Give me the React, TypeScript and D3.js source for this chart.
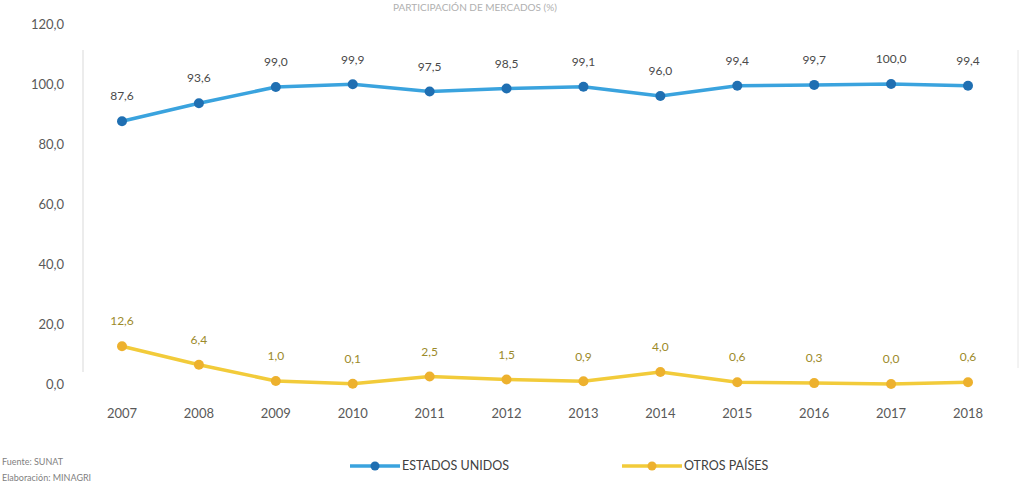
import React from "react";
import * as d3 from "d3";

const years = ["2007","2008","2009","2010","2011","2012","2013","2014","2015","2016","2017","2018"];
const estadosUnidos = [87.6, 93.6, 99.0, 99.9, 97.5, 98.5, 99.1, 96.0, 99.4, 99.7, 100.0, 99.4];
const otrosPaises = [12.6, 6.4, 1.0, 0.1, 2.5, 1.5, 0.9, 4.0, 0.6, 0.3, 0.0, 0.6];
const yTicks = [0, 20, 40, 60, 80, 100, 120];
const seriesNames = ["ESTADOS UNIDOS", "OTROS PAÍSES"];

const W = 1030, H = 500;
const fmt = (v: number) => v.toFixed(1).replace(".", ",");
const FONT = "Lato, 'Open Sans', sans-serif";

export default function App() {
  const x = d3.scalePoint<string>().domain(years).range([122, 968]);
  const y = d3.scaleLinear().domain([0, 120]).range([384, 24]);
  const line = d3.line<number>().x((_, i) => x(years[i])!).y((d) => y(d));

  const series = [
    { name: seriesNames[0], data: estadosUnidos, line: "#3AA3DE", marker: "#1F6FB2", label: "#4a4a4a" },
    { name: seriesNames[1], data: otrosPaises, line: "#F2CB3A", marker: "#EDB12E", label: "#9c8a2a" },
  ];

  return (
    <svg width={W} height={H} style={{ position: "absolute", left: 0, top: 0, background: "#fff" }} fontFamily={FONT}>
      <text x={475} y={11} textAnchor="middle" fontSize={10} fill="#b0b0b0">PARTICIPACIÓN DE MERCADOS (%)</text>
      {/* axis lines */}
      <line x1={83} x2={83} y1={50} y2={372} stroke="#d9d9d9" strokeWidth={1} />
      <line x1={1018} x2={1018} y1={50} y2={368} stroke="#e6e6e6" strokeWidth={1} />
      {yTicks.map((t) => (
        <text key={t} x={64} y={y(t)} dy="0.35em" textAnchor="end" fontSize={13} fill="#595959">{fmt(t)}</text>
      ))}
      {years.map((yr) => (
        <text key={yr} x={x(yr)} y={413} dy="0.35em" textAnchor="middle" fontSize={13} fill="#595959">{yr}</text>
      ))}
      {series.map((s) => (
        <g key={s.name}>
          <path d={line(s.data) || ""} fill="none" stroke={s.line} strokeWidth={3.5} strokeLinejoin="round" />
          {s.data.map((v, i) => (
            <circle key={i} cx={x(years[i])} cy={y(v)} r={5} fill={s.marker} />
          ))}
          {s.data.map((v, i) => (
            <text key={"l" + i} x={x(years[i])} y={y(v) - 25} dy="0.35em" textAnchor="middle" fontSize={12} fill={s.label}>{fmt(v)}</text>
          ))}
        </g>
      ))}
      {/* legend */}
      <g>
        <line x1={350} x2={400} y1={466} y2={466} stroke={series[0].line} strokeWidth={3.5} />
        <circle cx={375} cy={466} r={4.5} fill={series[0].marker} />
        <text x={402} y={466} dy="0.35em" fontSize={12.5} fill="#404040">{series[0].name}</text>
        <line x1={622} x2={682} y1={466} y2={466} stroke={series[1].line} strokeWidth={3.5} />
        <circle cx={652} cy={466} r={4.5} fill={series[1].marker} />
        <text x={684} y={466} dy="0.35em" fontSize={12.5} fill="#404040">{series[1].name}</text>
      </g>
      <text x={2} y={462} dy="0.35em" fontSize={9} fill="#7f7f7f">Fuente: SUNAT</text>
      <text x={2} y={478} dy="0.35em" fontSize={9} fill="#7f7f7f">Elaboración: MINAGRI</text>
    </svg>
  );
}
